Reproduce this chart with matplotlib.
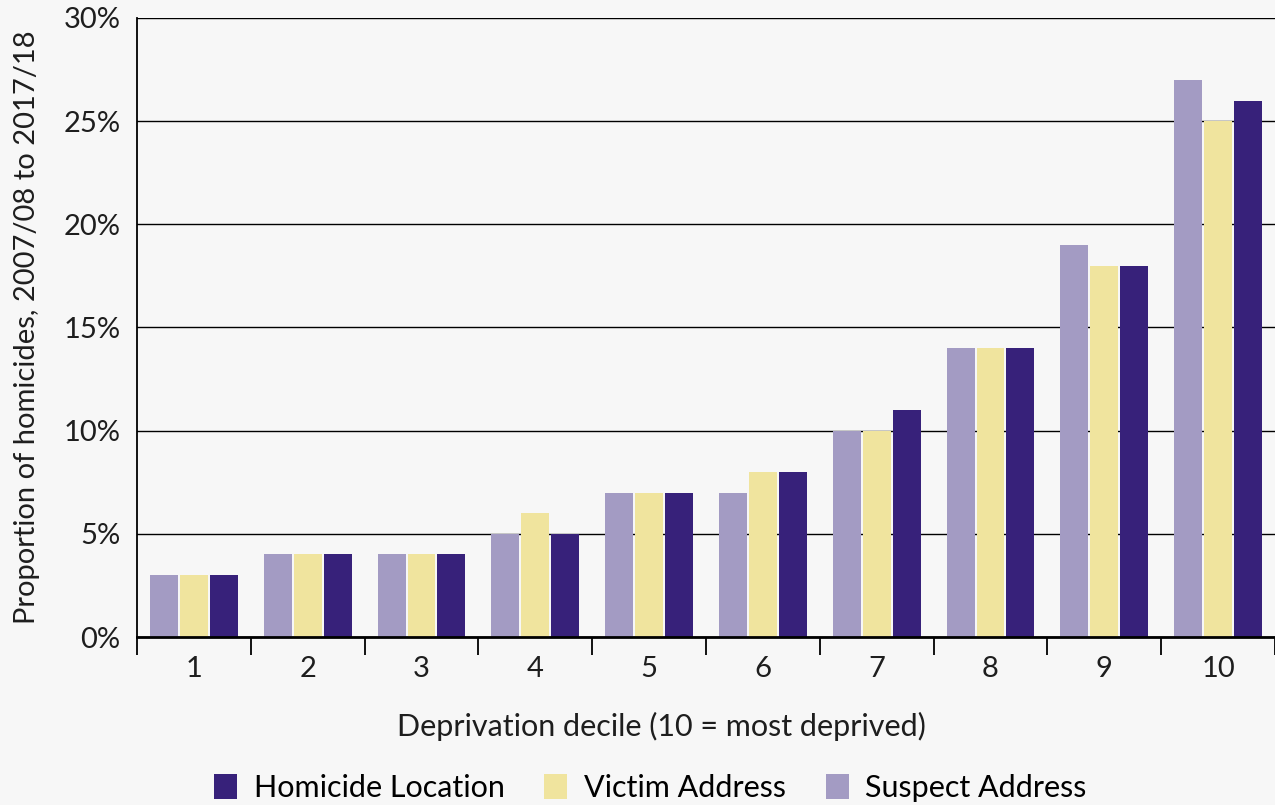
import matplotlib
matplotlib.use("Agg")
import matplotlib.pyplot as plt
import numpy as np
from matplotlib.ticker import FixedLocator, PercentFormatter

deciles = ["1", "2", "3", "4", "5", "6", "7", "8", "9", "10"]
suspect = [3, 4, 4, 5, 7, 7, 10, 14, 19, 27]
victim = [3, 4, 4, 6, 7, 8, 10, 14, 18, 25]
homicide = [3, 4, 4, 5, 7, 8, 11, 14, 18, 26]

c_susp = "#a39bc3"
c_vict = "#f0e49e"
c_hom = "#37217a"
bg = "#f7f7f7"
tc = "#1e1e1e"

plt.rcParams["font.family"] = ["Lato", "DejaVu Sans"]

fig = plt.figure(figsize=(12.75, 8.05), dpi=100, facecolor=bg)
ax = fig.add_axes([137/1275, (805-637)/805, (1275-137)/1275, (637-18)/805], facecolor=bg)

x = np.arange(len(deciles))
w = 0.245
step = 0.263
ax.bar(x - step, suspect, w, color=c_susp, label="Suspect Address", zorder=2)
ax.bar(x, victim, w, color=c_vict, label="Victim Address", zorder=2)
ax.bar(x + step, homicide, w, color=c_hom, label="Homicide Location", zorder=2)

ax.set_xlim(-0.5, len(deciles) - 0.5)
ax.set_ylim(0, 30)
ax.set_yticks(np.arange(0, 31, 5))
ax.yaxis.set_major_formatter(PercentFormatter(decimals=0))
ax.tick_params(axis="y", length=0, labelsize=21, pad=12, colors=tc)
ax.yaxis.grid(True, color="black", linewidth=1, zorder=1)
ax.set_axisbelow(True)

ax.xaxis.set_major_locator(FixedLocator(np.arange(-0.5, len(deciles), 1)))
ax.xaxis.set_major_formatter(plt.NullFormatter())
ax.xaxis.set_minor_locator(FixedLocator(x))
ax.set_xticklabels(deciles, minor=True)
ax.tick_params(axis="x", which="major", length=13, width=1.3, color="black")
ax.tick_params(axis="x", which="minor", length=0, labelsize=21, pad=14, labelcolor=tc)

for s in ["top", "right"]:
    ax.spines[s].set_visible(False)
ax.spines["left"].set_linewidth(1.3)
ax.spines["bottom"].set_linewidth(2)

ax.set_xlabel("Deprivation decile (10 = most deprived)", fontsize=22, color=tc)
ax.xaxis.set_label_coords(0.461, -0.121)
ax.set_ylabel("Proportion of homicides, 2007/08 to 2017/18", fontsize=21, labelpad=17, color=tc)

h, l = ax.get_legend_handles_labels()
order = [2, 1, 0]
fig.legend([h[i] for i in order], [l[i] for i in order], loc="center", bbox_to_anchor=(0.51, 0.021),
           ncol=3, frameon=False, fontsize=22, handlelength=0.75, handleheight=0.85,
           columnspacing=1.3, handletextpad=0.55)

fig.savefig("out.png", dpi=100, facecolor=bg)
